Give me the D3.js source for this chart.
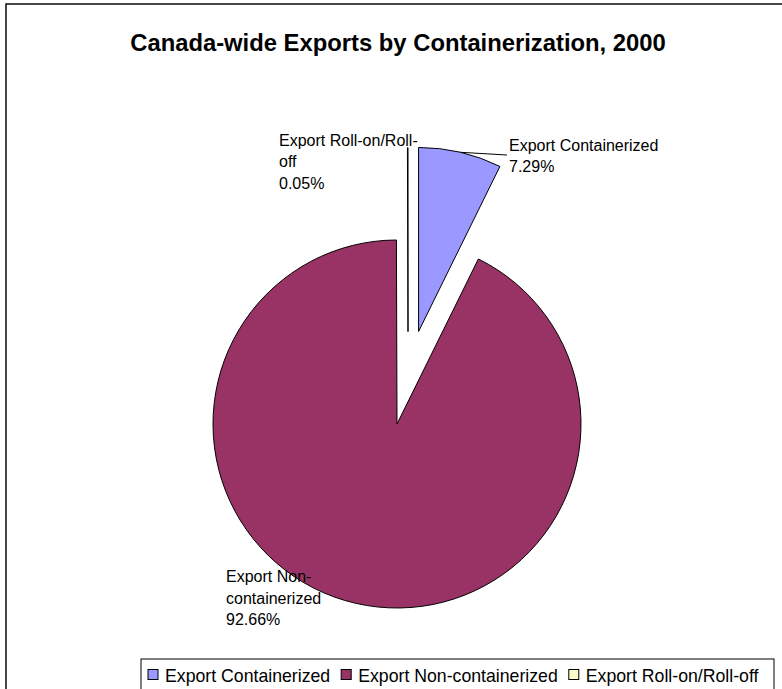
<!DOCTYPE html>
<html>
<head>
<meta charset="utf-8">
<script src="https://cdn.jsdelivr.net/npm/d3@7"></script>
<style>
  body { margin: 0; background: #fff; }
  text { font-family: "Liberation Sans", Arial, sans-serif; fill: #000; }
</style>
</head>
<body>
<svg id="chart" width="782" height="689"></svg>
<script>
// Export shares by containerization type, Canada, 2000 (percent)
const categories = ["Export Containerized", "Export Non-containerized", "Export Roll-on/Roll-off"];
const shares = [7.29, 92.66, 0.05];
const sliceColors = ["#9999FF", "#993366", "#FFFFCC"];
const titleText = "Canada-wide Exports by Containerization, 2000";

// Layout
const W = 782, H = 689;
const cx = 397, cy = 424, R = 184;
// Exploded slices: distance from centre (px), optional direction override (deg)
const explode = [{ dist: 95 }, { dist: 0 }, { dist: 93, dir: 6.8 }];
// Data label anchors (first baseline) and wrapping width
const labelAnchors = [
  { x: 509, y: 150.5, leader: true },
  { x: 226, y: 582 },
  { x: 279, y: 145.5 }
];
const labelWrap = 155, labelLine = 21.5, labelSize = 16;

const svg = d3.select("#chart");
svg.append("rect").attr("width", W).attr("height", H).attr("fill", "#fff");

// Outer chart frame (runs off the right and bottom edges)
svg.append("rect")
  .attr("x", 6).attr("y", 4).attr("width", 820).attr("height", 740)
  .attr("fill", "none").attr("stroke", "#1a1a1a").attr("stroke-width", 1.6);

// Title
svg.append("text")
  .attr("x", 398).attr("y", 51)
  .attr("text-anchor", "middle")
  .style("font-weight", "bold").style("font-size", "23.8px")
  .text(titleText);

// Pie
const data = categories.map((c, i) => ({ name: c, value: shares[i], color: sliceColors[i], ex: explode[i], lab: labelAnchors[i] }));
const pie = d3.pie().sort(null).value(d => d.value).startAngle(0).endAngle(2 * Math.PI);
const arc = d3.arc().innerRadius(0).outerRadius(R);
const arcs = pie(data);

function offset(a) {
  const ang = a.data.ex.dir !== undefined ? a.data.ex.dir * Math.PI / 180 : (a.startAngle + a.endAngle) / 2;
  return [a.data.ex.dist * Math.sin(ang), -a.data.ex.dist * Math.cos(ang)];
}

const g = svg.append("g").attr("transform", `translate(${cx},${cy})`);
g.selectAll("path.slice")
  .data(arcs)
  .join("path")
  .attr("class", "slice")
  .attr("transform", a => { const [dx, dy] = offset(a); return `translate(${dx},${dy})`; })
  .attr("d", arc)
  .attr("fill", a => a.data.color)
  .attr("stroke", "#000")
  .attr("stroke-width", 1)
  .attr("stroke-linejoin", "round");

// Data labels
const fmt = d3.format(".2f");
const measure = svg.append("text").style("font-size", labelSize + "px").attr("visibility", "hidden");
function textWidth(s) { measure.text(s); return measure.node().getComputedTextLength(); }
function wrap(s) {
  const tokens = s.match(/[^\s-]+[\s-]?/g);
  const lines = [];
  let cur = "";
  tokens.forEach(t => {
    if (cur && textWidth((cur + t).trimEnd()) > labelWrap) { lines.push(cur.trimEnd()); cur = t; }
    else cur += t;
  });
  if (cur) lines.push(cur.trimEnd());
  return lines;
}

arcs.forEach(a => {
  const lab = a.data.lab;
  const lines = wrap(a.data.name).concat([fmt(a.data.value) + "%"]);
  const t = svg.append("text").style("font-size", labelSize + "px");
  lines.forEach((ln, i) => {
    t.append("tspan").attr("x", lab.x).attr("y", lab.y + i * labelLine).text(ln);
  });
  if (lab.leader) {
    const [dx, dy] = offset(a);
    const mid = (a.startAngle + a.endAngle) / 2;
    const px = cx + dx + R * Math.sin(mid), py = cy + dy - R * Math.cos(mid);
    svg.append("line")
      .attr("x1", px).attr("y1", py)
      .attr("x2", lab.x - 2).attr("y2", lab.y + 4.5)
      .attr("stroke", "#000").attr("stroke-width", 1);
  }
});
measure.remove();

// Legend
const legend = svg.append("g");
legend.append("rect")
  .attr("x", 141).attr("y", 659).attr("width", 633).attr("height", 60)
  .attr("fill", "#fff").attr("stroke", "#000").attr("stroke-width", 1);
const legendSize = 17.7;
let lx = 148;
data.forEach(d => {
  legend.append("rect")
    .attr("x", lx).attr("y", 669.5).attr("width", 10).attr("height", 10)
    .attr("fill", d.color).attr("stroke", "#000").attr("stroke-width", 1);
  const t = legend.append("text")
    .attr("x", lx + 17).attr("y", 681.5)
    .style("font-size", legendSize + "px")
    .text(d.name);
  lx += 17 + t.node().getComputedTextLength() + 11;
});
</script>
</body>
</html>
